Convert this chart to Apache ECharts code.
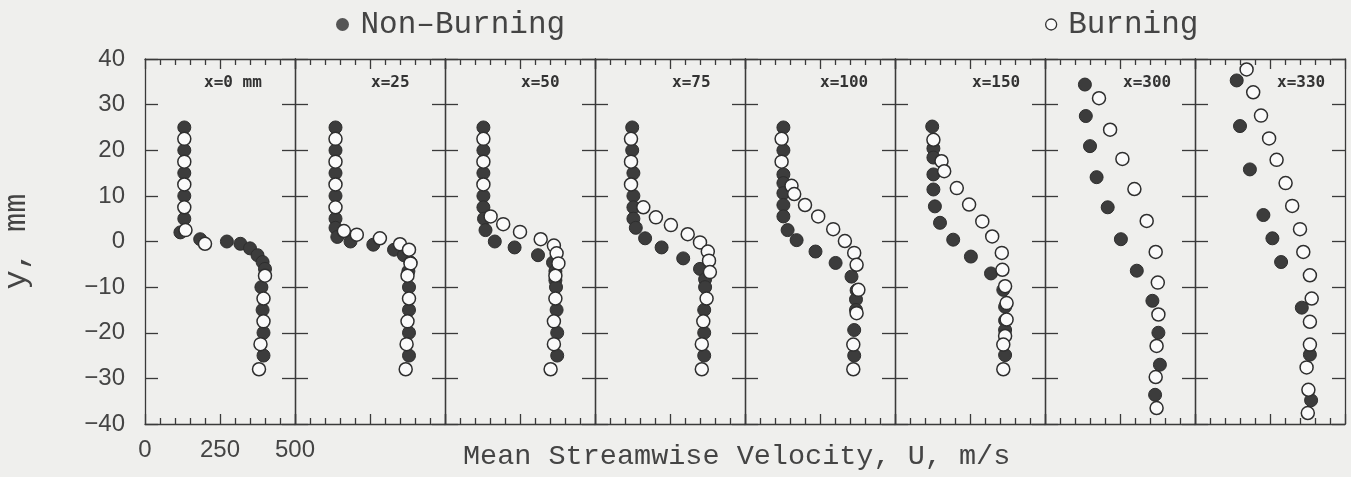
<!DOCTYPE html>
<html>
<head>
<meta charset="utf-8">
<script src="https://cdn.jsdelivr.net/npm/echarts@6/dist/echarts.min.js"></script>
<style>
  html, body { margin: 0; padding: 0; background: #efefed; }
  #chart { width: 1351px; height: 477px; }
</style>
</head>
<body>
<div id="chart"></div>
<script>
// stations (downstream distance)
var stations = ['x=0 mm', 'x=25', 'x=50', 'x=75', 'x=100', 'x=150', 'x=300', 'x=330']

// [U (m/s), y (mm)]
var nonBurn0 = [[131, 25], [131, 20], [131, 15], [131, 10], [131, 5], [118, 2], [184, 0.5], [273, 0], [318, -0.5], [350, -1.5], [375, -3], [392, -4.5], [400, -6], [388, -10], [392, -15], [395, -20], [395, -25]]
var burn0 = [[131, 22.5], [131, 17.5], [131, 12.5], [131, 7.5], [135, 2.5], [200, -0.5], [400, -7.5], [395, -12.5], [395, -17.5], [385, -22.5], [380, -28]]

var nonBurn25 = [[135, 25], [135, 20], [135, 15], [135, 10], [135, 5], [135, 3], [141, 1], [185, 0], [261, -0.7], [330, -1.8], [363, -3], [385, -4.6], [378, -6.5], [380, -10], [380, -15], [380, -20], [380, -25]]
var burn25 = [[135, 22.5], [135, 17.5], [135, 12.5], [135, 7.5], [163, 2.3], [206, 1.5], [283, 0.7], [350, -0.6], [380, -1.8], [385, -4.8], [375, -7.5], [380, -12.5], [375, -17.5], [372, -22.5], [369, -28]]

var nonBurn50 = [[128, 25], [128, 20], [128, 15], [128, 10], [128, 7.5], [130, 5], [135, 2.5], [166, 0], [232, -1.3], [310, -3], [360, -4.6], [368, -6.5], [368, -8.5], [370, -10], [372, -15], [374, -20], [374, -25]]
var burn50 = [[128, 22.5], [128, 17.5], [128, 12.5], [152, 5.5], [194, 3.8], [250, 2.1], [319, 0.5], [363, -0.9], [372, -2.6], [378, -4.8], [368, -7.5], [368, -12.5], [363, -17.5], [363, -22.5], [352, -28]]

var nonBurn75 = [[124, 25], [124, 20], [128, 15], [128, 10], [128, 7.5], [128, 5], [136, 3], [167, 0.7], [222, -1.3], [294, -3.7], [350, -6], [367, -8.3], [367, -10], [364, -15], [364, -20], [364, -25]]
var burn75 = [[120, 22.5], [120, 17.5], [120, 12.5], [161, 7.5], [203, 5.3], [253, 3.6], [309, 1.6], [350, -0.2], [376, -2.2], [380, -4.2], [383, -6.7], [372, -12.5], [361, -17.5], [356, -22.5], [356, -28]]

var nonBurn100 = [[128, 25], [128, 20], [128, 14.7], [128, 12.8], [128, 10.6], [128, 8], [128, 5.5], [142, 2.5], [172, 0.3], [235, -2.2], [302, -4.7], [355, -7.7], [372, -10.7], [370, -12.7], [370, -15], [364, -19.4], [364, -25]]
var burn100 = [[122, 22.5], [122, 17.5], [155, 12.2], [164, 10.4], [200, 8], [244, 5.5], [294, 2.7], [333, 0.1], [364, -2.5], [372, -5.1], [378, -10.6], [372, -15.7], [361, -22.6], [361, -28]]

var nonBurn150 = [[124, 25.2], [128, 20.4], [128, 18.4], [128, 14.7], [128, 11.4], [133, 7.7], [150, 4.1], [194, 0.4], [253, -3.3], [320, -7], [361, -10.6], [367, -14.3], [367, -17.3], [367, -19.4], [367, -24.9]]
var burn150 = [[128, 22.3], [155, 17.6], [164, 15.4], [206, 11.7], [247, 8.1], [291, 4.4], [324, 1.1], [356, -2.5], [358, -6.2], [367, -9.8], [372, -13.5], [372, -17.1], [367, -20.7], [361, -22.6], [361, -28]]

var nonBurn300 = [[133, 34.4], [136, 27.5], [150, 20.9], [172, 14.1], [209, 7.5], [253, 0.5], [306, -6.4], [358, -13], [378, -20], [383, -27], [367, -33.6]]
var burn300 = [[180, 31.4], [217, 24.5], [258, 18.1], [298, 11.5], [339, 4.5], [369, -2.3], [376, -9], [378, -16], [372, -22.9], [369, -29.7], [372, -36.5]]

var nonBurn330 = [[139, 35.3], [150, 25.3], [183, 15.8], [228, 5.8], [258, 0.7], [287, -4.5], [356, -14.5], [383, -24.8], [387, -34.8]]
var burn330 = [[172, 37.7], [194, 32.7], [220, 27.6], [247, 22.6], [272, 17.9], [302, 12.8], [324, 7.8], [350, 2.7], [361, -2.3], [383, -7.4], [389, -12.5], [383, -17.6], [383, -22.6], [372, -27.6], [378, -32.5], [376, -37.6]]

var nonBurning = [nonBurn0, nonBurn25, nonBurn50, nonBurn75, nonBurn100, nonBurn150, nonBurn300, nonBurn330]
var burning = [burn0, burn25, burn50, burn75, burn100, burn150, burn300, burn330]

var lineColor = '#3a3a3a'
var panelLeft = 145
var panelWidth = 150
var panelTop = 59
var panelHeight = 365
var labelOffsets = [59, 76, 76, 77, 75, 77, 78, 82]

function minus (v) {
  return v < 0 ? '\u2212' + Math.abs(v) : String(v)
}

var grids = []
var xAxes = []
var yAxes = []
var series = []
var graphics = []

stations.forEach(function (name, i) {
  var left = panelLeft + i * panelWidth
  grids.push({ left: left, top: panelTop, width: panelWidth, height: panelHeight })

  ;['bottom', 'top'].forEach(function (pos) {
    xAxes.push({
      gridIndex: i,
      type: 'value',
      position: pos,
      min: 0,
      max: 500,
      interval: 250,
      axisLine: { show: true, onZero: false, lineStyle: { color: lineColor, width: 1.3 } },
      axisTick: { show: true, inside: true, length: 10, lineStyle: { color: lineColor, width: 1.3 } },
      minorTick: { show: true, splitNumber: 5, length: 6, lineStyle: { color: lineColor, width: 1.3 } },
      axisLabel: {
        show: i === 0 && pos === 'bottom',
        margin: 14,
        fontFamily: 'Liberation Sans',
        fontSize: 24,
        color: '#444'
      },
      splitLine: { show: false }
    })
  })

  ;['left', 'right'].forEach(function (pos) {
    var showLabel = i === 0 && pos === 'left'
    yAxes.push({
      gridIndex: i,
      type: 'value',
      position: pos,
      min: -40,
      max: 40,
      interval: 10,
      name: showLabel ? 'y, mm' : '',
      nameLocation: 'middle',
      nameGap: 112,
      nameTextStyle: { fontFamily: 'Liberation Mono', fontSize: 32, color: '#444' },
      axisLine: { show: true, onZero: false, lineStyle: { color: lineColor, width: 1.3 } },
      axisTick: { show: true, inside: true, length: 13, lineStyle: { color: lineColor, width: 1.3 } },
      axisLabel: {
        show: showLabel,
        margin: 20,
        fontFamily: 'Liberation Sans',
        fontSize: 24,
        color: '#444',
        formatter: minus
      },
      splitLine: { show: false }
    })
  })

  series.push({
    name: 'Non-Burning',
    type: 'scatter',
    xAxisIndex: 2 * i,
    yAxisIndex: 2 * i,
    symbol: 'circle',
    symbolSize: 13,
    itemStyle: { color: '#3c3c3c', borderColor: '#2e2e2e', borderWidth: 1, opacity: 1 },
    data: nonBurning[i]
  })
  series.push({
    name: 'Burning',
    type: 'scatter',
    xAxisIndex: 2 * i,
    yAxisIndex: 2 * i,
    symbol: 'circle',
    symbolSize: 13,
    itemStyle: { color: '#fafafa', borderColor: '#2e2e2e', borderWidth: 1.5, opacity: 1 },
    data: burning[i]
  })

  graphics.push({
    type: 'text',
    left: left + labelOffsets[i],
    top: 75,
    style: {
      text: name,
      fontFamily: 'DejaVu Sans Mono',
      fontWeight: 'bold',
      fontSize: 16,
      fill: '#333'
    }
  })
})

graphics.push({
  type: 'text',
  left: 463,
  top: 442,
  style: {
    text: 'Mean Streamwise Velocity, U, m/s',
    fontFamily: 'Liberation Mono',
    fontSize: 28.5,
    fill: '#444'
  }
})

var option = {
  backgroundColor: '#efefed',
  animation: false,
  legend: [
    {
      data: ['Non-Burning'],
      left: 331,
      top: 4,
      itemWidth: 26,
      itemHeight: 13,
      icon: 'circle',
      formatter: function () { return 'Non\u2013Burning' },
      itemStyle: { color: '#555', borderWidth: 0 },
      textStyle: { fontFamily: 'Liberation Mono', fontSize: 31, color: '#444' }
    },
    {
      data: ['Burning'],
      left: 1040,
      top: 4,
      itemWidth: 24,
      itemHeight: 11,
      icon: 'circle',
      itemStyle: { color: '#fafafa', borderColor: '#333', borderWidth: 1.3 },
      textStyle: { fontFamily: 'Liberation Mono', fontSize: 31, color: '#444' }
    }
  ],
  grid: grids,
  xAxis: xAxes,
  yAxis: yAxes,
  series: series,
  graphic: graphics
}

var chart = echarts.init(document.getElementById('chart'))
chart.setOption(option)
</script>
</body>
</html>
